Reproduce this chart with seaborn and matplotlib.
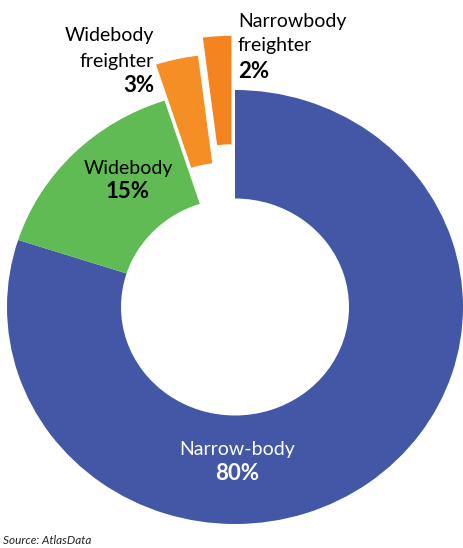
import matplotlib
matplotlib.use("Agg")
import matplotlib.pyplot as plt
import seaborn as sns

# Fleet mix by aircraft category (share of fleet, %)
categories = ["Narrow-body", "Widebody", "Widebody\nfreighter", "Narrowbody\nfreighter"]
shares = [80, 15, 3, 2]
explode = [0.0, 0.0, 0.17, 0.25]
colors = ["#4357A6", "#60BB55", "#F58E24", "#F38420"]

sns.set_theme(style="white")
plt.rcParams["font.family"] = ["Lato", "DejaVu Sans"]

W, H = 463, 548
fig = plt.figure(figsize=(W / 100, H / 100), dpi=100)
ax = fig.add_axes([0, 0, 1, 1])

# donut centre and radii in pixels (slightly wider than tall)
cx, cy, rx, ry = 235, 307, 228, 217
ax.pie(shares, explode=explode, colors=colors, startangle=90, counterclock=False,
       radius=1.0, wedgeprops=dict(width=0.5, edgecolor="white", linewidth=0))
ax.set_aspect("auto")
ax.set_xlim(-cx / rx, (W - cx) / rx)
ax.set_ylim(-(H - cy) / ry, cy / ry)
ax.axis("off")


def fx(px):
    return px / W


def fy(py):
    return 1 - py / H


name_fs = 14
pct_fs = 16

# Narrow-body label inside the ring
fig.text(fx(237), fy(450), categories[0], color="white", fontsize=name_fs,
         ha="center", va="center")
fig.text(fx(237), fy(474), f"{shares[0]}%", color="white", fontsize=pct_fs,
         fontweight="bold", ha="center", va="center")

# Widebody label inside the ring
fig.text(fx(128), fy(168), categories[1], color="black", fontsize=name_fs,
         ha="center", va="center")
fig.text(fx(128), fy(192), f"{shares[1]}%", color="black", fontsize=pct_fs,
         fontweight="bold", ha="center", va="center")

# Widebody freighter label, right-aligned beside its slice
for i, line in enumerate(categories[2].split("\n")):
    fig.text(fx(154), fy(36 + 25 * i), line, color="black", fontsize=name_fs,
             ha="right", va="center")
fig.text(fx(154), fy(86), f"{shares[2]}%", color="black", fontsize=pct_fs,
         fontweight="bold", ha="right", va="center")

# Narrowbody freighter label, left-aligned beside its slice
for i, line in enumerate(categories[3].split("\n")):
    fig.text(fx(238), fy(21 + 25 * i), line, color="black", fontsize=name_fs,
             ha="left", va="center")
fig.text(fx(238), fy(71), f"{shares[3]}%", color="black", fontsize=pct_fs,
         fontweight="bold", ha="left", va="center")

# Source note
fig.text(fx(3), fy(546), "Source: AtlasData", color="#222222", fontsize=8.5,
         style="italic", ha="left", va="bottom")

fig.savefig("out.png", dpi=100)
